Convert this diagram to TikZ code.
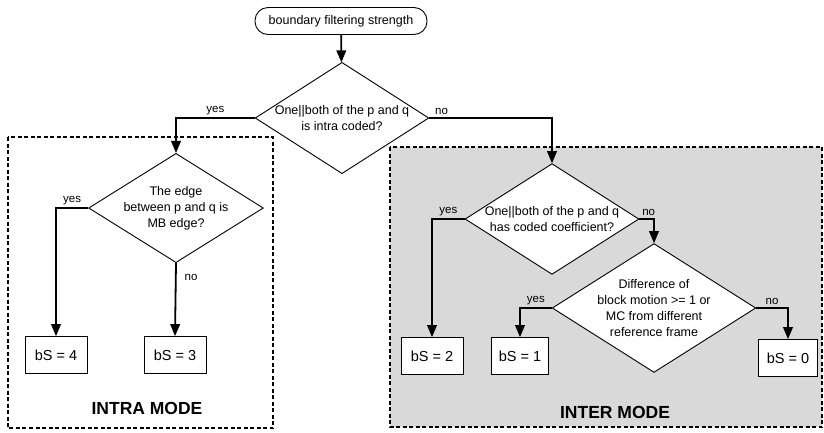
\documentclass[tikz,border=0pt]{standalone}
\usepackage{fontspec}
\setmainfont{Liberation Sans}
\usetikzlibrary{arrows,shapes.geometric}

\tikzset{
  decision/.style={diamond, draw, line width=0.9pt, fill=white, inner sep=0pt, align=center,
    font=\fontsize{12.5}{16}\selectfont},
  result/.style={rectangle, draw, line width=0.9pt, fill=white, minimum width=62pt, minimum height=37pt,
    font=\fontsize{14.5}{16}\selectfont},
  flow/.style={-triangle 45, line width=1.8pt},
  modebox/.style={dash pattern=on 4pt off 2.5pt, line width=1.4pt},
  lbl/.style={font=\fontsize{11.5}{13}\selectfont, inner sep=2pt},
  modename/.style={font=\bfseries\fontsize{17.5}{20}\selectfont}
}

\begin{document}
\begin{tikzpicture}[x=1pt,y=-1pt]
\useasboundingbox (0,0) rectangle (824,432);

% mode regions
\draw[modebox] (8,137) rectangle (273,428);
\filldraw[modebox, fill=black!15] (390,147) rectangle (822,427);
\node[modename] (intraname) at (147,408) {INTRA MODE};
\node[modename] (intername) at (615,412) {INTER MODE};

% start + decisions
\node[draw, line width=0.9pt, rounded corners=13pt, minimum width=172pt, minimum height=27pt,
  font=\fontsize{12.5}{14}\selectfont] (start) at (341,21) {boundary filtering strength};
\node[decision, aspect=1.56, minimum width=172pt, minimum height=110pt] (isintra) at (342,118)
  {One||both of the p and q\\is intra coded?};
\node[decision, aspect=1.6, minimum width=173pt, minimum height=107pt] (mbedge) at (176,208)
  {The edge\\between p and q is\\MB edge?};
\node[decision, aspect=1.57, minimum width=171pt, minimum height=109pt] (coeff) at (552,219)
  {One||both of the p and q\\has coded coefficient?};
\node[decision, aspect=1.58, minimum width=190pt, minimum height=120pt] (motion) at (654,308)
  {Difference of\\block motion >= 1 or\\MC from different\\reference frame};

% results
\node[result] (bs4) at (56,355) {bS = 4};
\node[result] (bs3) at (175,355) {bS = 3};
\node[result] (bs2) at (432,356) {bS = 2};
\node[result, minimum width=57pt] (bs1) at (520,356) {bS = 1};
\node[result, minimum width=59pt] (bs0) at (788,358) {bS = 0};

% connectors
\draw[flow] (start) -- (isintra);
\draw[flow] (isintra.west) -| (mbedge.north) node[lbl, pos=.25, above] {yes};
\draw[flow] (isintra.east) -| (coeff.north) node[lbl, pos=0, anchor=south west, xshift=3pt] {no};
\draw[flow] (mbedge.west) -| (bs4.north) node[lbl, pos=.25, above] {yes};
\draw[flow] (mbedge.south) -- (bs3.north) node[lbl, pos=.2, right, xshift=6pt] {no};
\draw[flow] (coeff.west) -| (bs2.north) node[lbl, pos=.25, above] {yes};
\draw[flow] (coeff.east) -| (motion.north) node[lbl, pos=0, anchor=south west] {no};
\draw[flow] (motion.west) -| (bs1.north) node[lbl, pos=.25, above] {yes};
\draw[flow] (motion.east) -| (bs0.north) node[lbl, pos=.25, above] {no};
\end{tikzpicture}
\end{document}
